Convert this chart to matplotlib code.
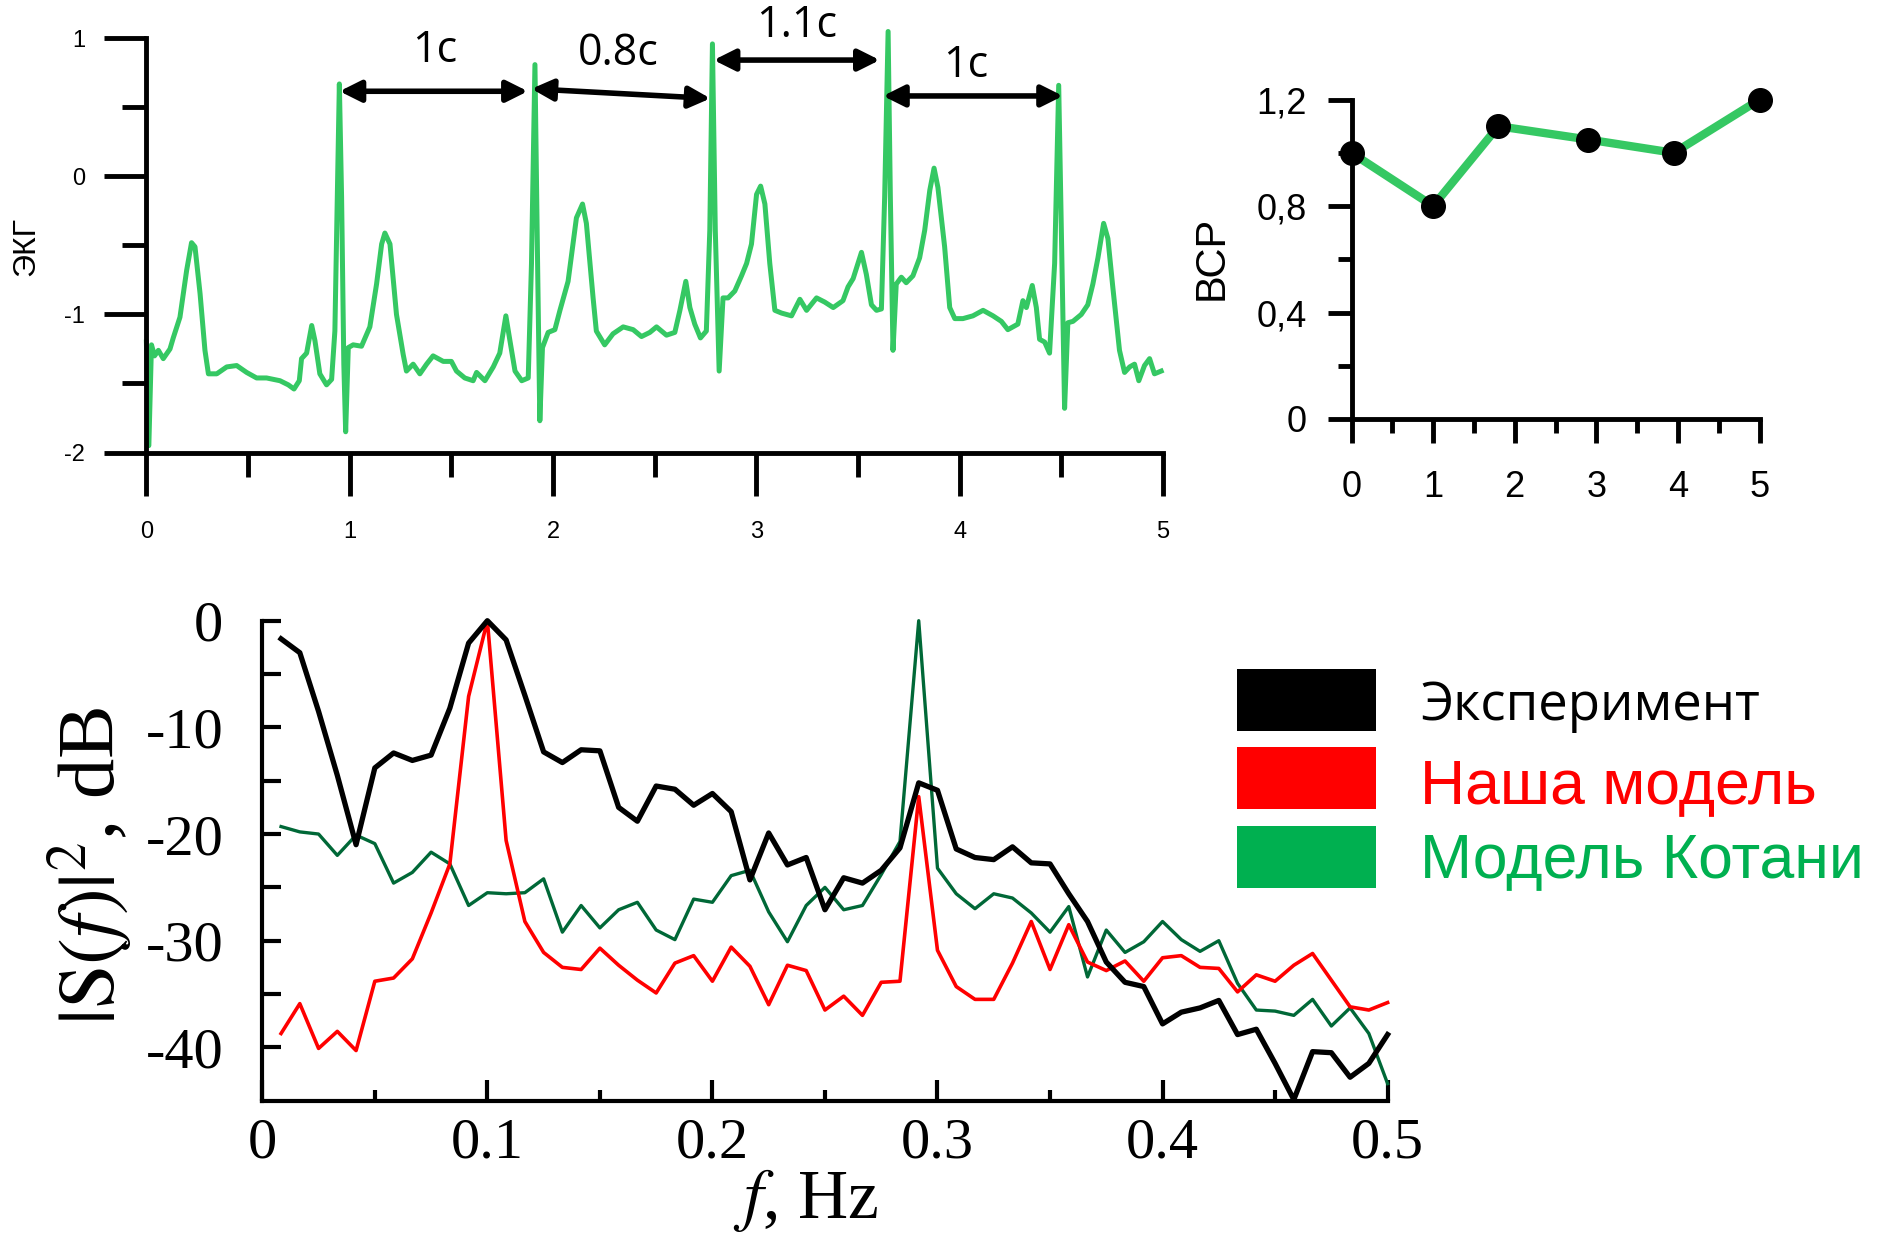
import numpy as np
import matplotlib.pyplot as plt
from matplotlib.patches import Rectangle

plt.rcParams['mathtext.fontset'] = 'stix'
plt.rcParams['font.family'] = 'Liberation Sans'
plt.rcParams['axes.unicode_minus'] = False

# --- ECG trace (time in s, amplitude) ---
ecg_t = [0.000, 0.012, 0.025, 0.040, 0.059, 0.083, 0.116, 0.132, 0.165, 0.198,
         0.222, 0.239, 0.264, 0.288, 0.305, 0.346, 0.395, 0.444, 0.493, 0.542,
         0.591, 0.657, 0.698, 0.726, 0.752, 0.763, 0.788, 0.813, 0.829, 0.853,
         0.886, 0.911, 0.927, 0.939, 0.949, 0.960, 0.971, 0.980, 0.993, 1.017,
         1.058, 1.099, 1.132, 1.157, 1.173, 1.198, 1.230, 1.263, 1.279, 1.312,
         1.345, 1.378, 1.410, 1.460, 1.500, 1.525, 1.566, 1.607, 1.624, 1.665,
         1.706, 1.738, 1.768, 1.788, 1.813, 1.846, 1.878, 1.894, 1.911, 1.924,
         1.935, 1.948, 1.976, 2.009, 2.034, 2.074, 2.115, 2.145, 2.164, 2.197,
         2.213, 2.254, 2.295, 2.345, 2.394, 2.435, 2.476, 2.509, 2.558, 2.599,
         2.624, 2.653, 2.673, 2.697, 2.725, 2.754, 2.771, 2.784, 2.798, 2.817,
         2.836, 2.861, 2.894, 2.927, 2.952, 2.976, 3.001, 3.021, 3.042, 3.066,
         3.091, 3.124, 3.173, 3.214, 3.247, 3.296, 3.336, 3.378, 3.426, 3.451,
         3.476, 3.517, 3.541, 3.566, 3.591, 3.615, 3.631, 3.648, 3.659, 3.672,
         3.688, 3.713, 3.737, 3.770, 3.803, 3.828, 3.853, 3.874, 3.893, 3.926,
         3.951, 3.976, 4.016, 4.065, 4.115, 4.164, 4.205, 4.237, 4.286, 4.311,
         4.328, 4.357, 4.377, 4.393, 4.418, 4.442, 4.467, 4.487, 4.500, 4.516,
         4.532, 4.557, 4.598, 4.630, 4.655, 4.680, 4.708, 4.729, 4.753, 4.786,
         4.811, 4.836, 4.860, 4.881, 4.909, 4.934, 4.958, 4.991]
ecg_v = [-1.20, -1.95, -1.22, -1.30, -1.26, -1.32, -1.25, -1.17, -1.02, -0.68,
         -0.48, -0.51, -0.85, -1.26, -1.43, -1.43, -1.38, -1.37, -1.42, -1.46,
         -1.46, -1.48, -1.51, -1.54, -1.48, -1.32, -1.28, -1.08, -1.19, -1.43,
         -1.51, -1.47, -1.12, -0.15, 0.67, -0.15, -1.36, -1.85, -1.24, -1.22,
         -1.23, -1.09, -0.78, -0.49, -0.41, -0.49, -1.00, -1.29, -1.41, -1.36,
         -1.43, -1.36, -1.30, -1.34, -1.34, -1.41, -1.46, -1.48, -1.42, -1.48,
         -1.38, -1.28, -1.01, -1.19, -1.41, -1.48, -1.46, -0.63, 0.81, -0.63,
         -1.77, -1.24, -1.13, -1.11, -0.97, -0.76, -0.30, -0.20, -0.34, -0.88,
         -1.12, -1.22, -1.14, -1.09, -1.11, -1.16, -1.13, -1.09, -1.15, -1.13,
         -0.97, -0.76, -0.95, -1.07, -1.17, -1.12, -0.39, 0.96, -0.39, -1.41,
         -0.88, -0.88, -0.83, -0.72, -0.63, -0.49, -0.13, -0.07, -0.20, -0.63,
         -0.97, -0.99, -1.01, -0.89, -0.97, -0.88, -0.91, -0.95, -0.90, -0.80,
         -0.74, -0.55, -0.71, -0.93, -0.97, -0.96, -0.15, 1.05, -0.15, -1.26,
         -0.78, -0.73, -0.77, -0.72, -0.59, -0.39, -0.10, 0.06, -0.08, -0.51,
         -0.95, -1.03, -1.03, -1.01, -0.97, -1.01, -1.05, -1.11, -1.07, -0.90,
         -0.95, -0.79, -0.95, -1.18, -1.20, -1.28, -0.63, 0.66, -0.39, -1.68,
         -1.06, -1.05, -1.00, -0.93, -0.78, -0.59, -0.34, -0.45, -0.80, -1.26,
         -1.42, -1.38, -1.36, -1.48, -1.37, -1.32, -1.43, -1.41]

# RR interval annotations: label, text position, arrow start, arrow end
rr_labels = ['1с', '0.8с', '1.1с', '1с']
rr_text_xy = [(1.42, 0.91), (2.32, 0.89), (3.20, 1.09), (4.03, 0.80)]
rr_arrow_from = [(0.95, 0.617), (1.894, 0.635), (2.79, 0.843), (3.623, 0.583)]
rr_arrow_to = [(1.876, 0.617), (2.774, 0.565), (3.607, 0.843), (4.508, 0.583)]

# --- HRV ---
hrv_x = [0, 1, 1.8, 2.9, 3.95, 5]
hrv_y = [1.0, 0.8, 1.1, 1.05, 1.0, 1.2]

# --- Spectra (dB), frequency bins of 1/120 Hz ---
freq = np.arange(1, 61) / 120
spec_exp = [-1.7, -3.0, -8.5, -14.5, -21.0, -13.8, -12.4, -13.1, -12.6, -8.2,
            -2.1, 0.0, -1.8, -7.0, -12.3, -13.3, -12.1, -12.2, -17.5, -18.8,
            -15.5, -15.8, -17.3, -16.2, -17.9, -24.3, -19.9, -22.9, -22.2, -27.1,
            -24.1, -24.6, -23.4, -21.3, -15.2, -15.9, -21.4, -22.2, -22.4, -21.2,
            -22.7, -22.8, -25.6, -28.2, -32.0, -33.9, -34.3, -37.8, -36.7, -36.3,
            -35.6, -38.8, -38.3, -41.5, -44.9, -40.4, -40.5, -42.8, -41.5, -38.8]
spec_ours = [-38.7, -35.9, -40.1, -38.5, -40.3, -33.8, -33.5, -31.7, -27.4, -22.8,
             -7.1, 0.0, -20.6, -28.2, -31.1, -32.5, -32.7, -30.7, -32.3, -33.7,
             -34.9, -32.1, -31.4, -33.8, -30.6, -32.4, -36.0, -32.3, -32.8, -36.5,
             -35.2, -37.0, -33.9, -33.8, -16.5, -30.9, -34.3, -35.5, -35.5, -32.1,
             -28.2, -32.7, -28.5, -32.0, -32.8, -31.9, -33.8, -31.6, -31.4, -32.5,
             -32.6, -34.8, -33.2, -33.8, -32.3, -31.2, -33.7, -36.2, -36.5, -35.8]
spec_kotani = [-19.3, -19.8, -20.0, -22.0, -20.1, -20.9, -24.6, -23.6, -21.7, -22.8,
               -26.7, -25.5, -25.6, -25.5, -24.2, -29.2, -26.7, -28.8, -27.1, -26.4,
               -29.0, -29.9, -26.1, -26.4, -23.9, -23.4, -27.3, -30.1, -26.7, -25.0,
               -27.1, -26.7, -23.8, -20.7, 0.0, -23.2, -25.6, -27.0, -25.6, -26.0,
               -27.4, -29.2, -26.8, -33.4, -29.0, -31.1, -30.1, -28.2, -29.9, -31.0,
               -30.0, -34.0, -36.5, -36.6, -37.0, -35.5, -38.0, -36.3, -38.7, -43.4]

legend_names = ['Эксперимент', 'Наша модель', 'Модель Котани']
legend_box_colors = ['#000000', '#ff0000', '#00b050']
legend_text_colors = ['#000000', '#ff0000', '#00b050']

W, H = 1882, 1246
fig = plt.figure(figsize=(W / 100, H / 100), dpi=100)


def px_box(x0, y0, x1, y1):
    return [x0 / W, 1 - y1 / H, (x1 - x0) / W, (y1 - y0) / H]


ecg_green = '#35c863'

# ---------------- ECG ----------------
ax1 = fig.add_axes(px_box(146.4, 38.4, 1163, 452.5))
ax1.plot(ecg_t, ecg_v, color=ecg_green, lw=3.6, clip_on=False)
ax1.set_xlim(0, 5)
ax1.set_ylim(-2, 1)
for s in ['top', 'right']:
    ax1.spines[s].set_visible(False)
for s in ['left', 'bottom']:
    ax1.spines[s].set_linewidth(3.5)
ax1.set_xticks(range(6))
ax1.set_xticks(np.arange(0.5, 5, 1), minor=True)
ax1.set_yticks([-2, -1, 0, 1])
ax1.set_yticks([-1.5, -0.5, 0.5], minor=True)
ax1.tick_params(axis='x', which='major', length=31, width=3.5, pad=18, labelsize=17)
ax1.tick_params(axis='x', which='minor', length=17, width=3.5)
ax1.tick_params(axis='y', which='major', length=30, width=3.5, pad=14, labelsize=17)
ax1.tick_params(axis='y', which='minor', length=17, width=3.5)
fig.text(26 / W, 1 - 246 / H, 'ЭКГ', rotation=90, ha='center', va='center',
         fontsize=23)

for lab, txy, a0, a1 in zip(rr_labels, rr_text_xy, rr_arrow_from, rr_arrow_to):
    ax1.annotate('', xy=a1, xytext=a0,
                 arrowprops=dict(arrowstyle='<|-|>', color='k', lw=4,
                                 mutation_scale=32, shrinkA=0, shrinkB=0))
    ax1.text(txy[0], txy[1], lab, ha='center', va='center', fontsize=31,
             family='Open Sans', clip_on=False)

# ---------------- HRV ----------------
ax2 = fig.add_axes(px_box(1351.5, 99.6, 1759.6, 419))
ax2.plot(hrv_x, hrv_y, color=ecg_green, lw=6, marker='o', ms=17,
         mfc='k', mec='k', clip_on=False, zorder=3)
ax2.set_xlim(0, 5)
ax2.set_ylim(0, 1.2)
for s in ['top', 'right']:
    ax2.spines[s].set_visible(False)
for s in ['left', 'bottom']:
    ax2.spines[s].set_linewidth(3.5)
ax2.set_xticks(range(6))
ax2.set_xticks(np.arange(0.5, 5, 1), minor=True)
ax2.set_yticks([0, 0.4, 0.8, 1.2])
ax2.set_yticklabels(['0', '0,4', '0,8', '1,2'])
ax2.set_yticks([0.2, 0.6, 1.0], minor=True)
ax2.tick_params(axis='x', which='major', length=17, width=3.5, pad=20, labelsize=26)
ax2.tick_params(axis='x', which='minor', length=10, width=3.5)
ax2.tick_params(axis='y', which='major', length=17, width=3.5, pad=15, labelsize=26)
ax2.tick_params(axis='y', which='minor', length=10, width=3.5)
fig.text(1212 / W, 1 - 258 / H, 'ВСР', rotation=90, ha='center', va='center',
         fontsize=30)

# ---------------- Spectrum ----------------
ax3 = fig.add_axes(px_box(262.3, 620.7, 1387.6, 1100.7))
ax3.plot(freq, spec_kotani, color='#006837', lw=2.4, clip_on=False)
ax3.plot(freq, spec_ours, color='#ff0000', lw=2.6, clip_on=False)
ax3.plot(freq, spec_exp, color='#000000', lw=3.8, clip_on=False)
ax3.set_xlim(0, 0.5)
ax3.set_ylim(-45, 0)
for s in ['top', 'right']:
    ax3.spines[s].set_visible(False)
for s in ['left', 'bottom']:
    ax3.spines[s].set_linewidth(3)
ax3.set_xticks([0, 0.1, 0.2, 0.3, 0.4, 0.5])
ax3.set_xticklabels(['0', '0.1', '0.2', '0.3', '0.4', '0.5'])
ax3.set_xticks([0.05, 0.15, 0.25, 0.35, 0.45], minor=True)
ax3.set_yticks([0, -10, -20, -30, -40])
ax3.set_yticks([-5, -15, -25, -35], minor=True)
ax3.tick_params(axis='x', which='major', direction='in', length=15, width=3, pad=12,
                labelsize=42, labelfontfamily='Liberation Serif')
ax3.tick_params(axis='x', which='minor', direction='in', length=8, width=3)
ax3.tick_params(axis='y', which='both', direction='in', length=14, width=3, pad=28,
                labelsize=42, labelfontfamily='Liberation Serif')
fig.text(806 / W, 1 - 1200 / H, r'$f$, Hz', ha='center', va='center',
         fontsize=50, family='Liberation Serif')
fig.text(90 / W, 1 - 866 / H, r'$|\mathrm{S}(f)|^2$, dB', rotation=90,
         ha='center', va='center', fontsize=58, family='Liberation Serif')

# legend drawn as coloured blocks with text beside them
box_tops = [668.6, 746.6, 825.8]
text_base = [720, 803, 877]
text_fonts = ['Open Sans', 'Liberation Sans', 'Liberation Sans']
text_sizes = [38, 45, 45]
for name, bc, tc, yt, yb, fam, fs in zip(legend_names, legend_box_colors,
                                         legend_text_colors, box_tops, text_base,
                                         text_fonts, text_sizes):
    x0, y0, w, h = px_box(1237, yt, 1376, yt + 62.4)
    fig.add_artist(Rectangle((x0, y0), w, h, transform=fig.transFigure,
                             facecolor=bc, edgecolor='none'))
    fig.text(1420 / W, 1 - yb / H, name, color=tc, ha='left', va='baseline',
             fontsize=fs, family=fam)

fig.savefig('out.png', dpi=100)
